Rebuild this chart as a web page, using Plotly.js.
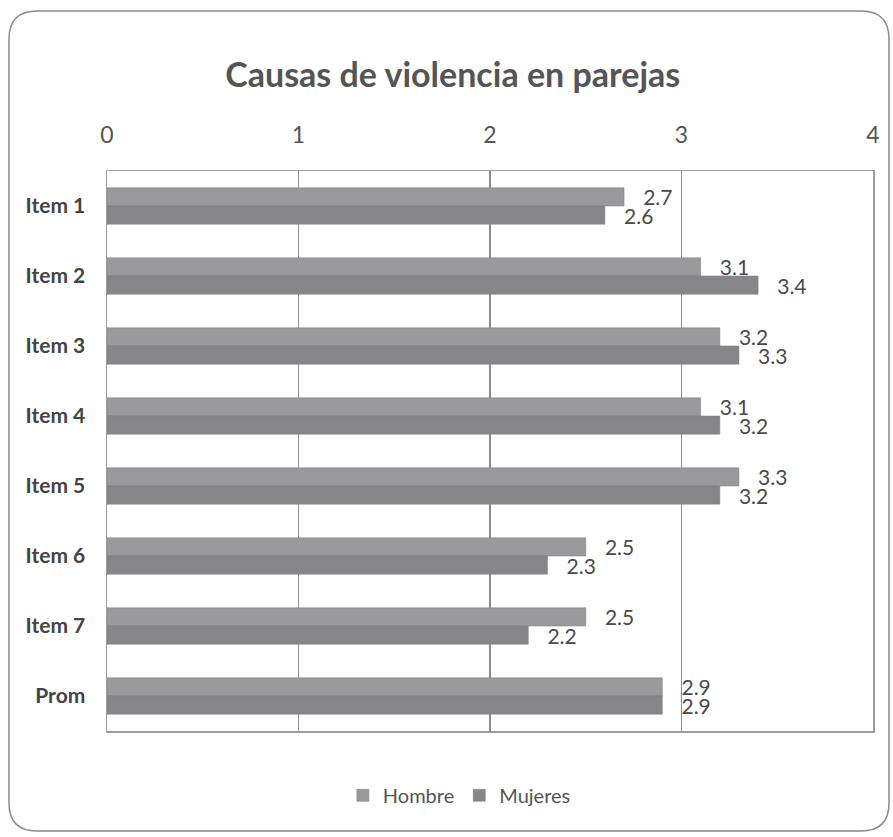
<!DOCTYPE html>
<html>
<head>
<meta charset="utf-8">
<script src="https://cdn.plot.ly/plotly-3.0.1.min.js"></script>
<style>
  html, body { margin: 0; padding: 0; background: #fff; }
  #chart { width: 893px; height: 837px; }
</style>
</head>
<body>
<div id="chart"></div>
<script>
// Item labels, top to bottom
const categories = ['Item 1', 'Item 2', 'Item 3', 'Item 4', 'Item 5', 'Item 6', 'Item 7', 'Prom'];
// Mean scores per group
const hombre  = [2.7, 3.1, 3.2, 3.1, 3.3, 2.5, 2.5, 2.9];
const mujeres = [2.6, 3.4, 3.3, 3.2, 3.2, 2.3, 2.2, 2.9];
const xTicks = [0, 1, 2, 3, 4];

const family = 'Lato, "Open Sans", sans-serif';
const labelFont = { family: family, size: 21, color: '#4a4a4a' };

function barTrace(name, values, color) {
  return {
    type: 'bar',
    orientation: 'h',
    name: name,
    y: categories,
    x: values,
    marker: { color: color, line: { color: '#7a7a7c', width: 0.5 } },
    text: values.map(v => v.toFixed(1)),
    texttemplate: '   %{text}',
    textposition: 'outside',
    constraintext: 'none',
    textfont: labelFont,
    cliponaxis: false,
    hoverinfo: 'skip'
  };
}

const data = [
  barTrace('Hombre', hombre, '#9a9a9c'),
  barTrace('Mujeres', mujeres, '#868688')
];

const layout = {
  width: 893,
  height: 837,
  margin: { l: 107, r: 20, t: 171, b: 106 },
  paper_bgcolor: '#ffffff',
  plot_bgcolor: '#ffffff',
  barmode: 'group',
  bargap: 0.48,
  bargroupgap: 0,
  title: {
    text: '<b>Causas de violencia en parejas</b>',
    font: { family: family, size: 34, color: '#555555' },
    x: 0.507,
    xanchor: 'center',
    y: 0.91,
    yanchor: 'middle'
  },
  xaxis: {
    side: 'top',
    range: [0, 4],
    tickvals: xTicks,
    ticktext: xTicks.map(String),
    showgrid: true,
    gridcolor: '#8c8c8c',
    gridwidth: 1.5,
    showline: true,
    linecolor: '#9c9c9c',
    linewidth: 1.5,
    mirror: true,
    zeroline: false,
    ticks: '',
    ticklabelstandoff: 17,
    tickfont: { family: family, size: 23, color: '#555555' },
    fixedrange: true
  },
  yaxis: {
    type: 'category',
    autorange: 'reversed',
    showgrid: false,
    showline: true,
    linecolor: '#9c9c9c',
    linewidth: 1.5,
    mirror: true,
    ticks: '',
    ticklabelstandoff: 16,
    tickfont: { family: family, size: 21, color: '#444444', weight: 'bold' },
    fixedrange: true
  },
  showlegend: true,
  legend: {
    orientation: 'h',
    x: 0.46,
    xanchor: 'center',
    y: -0.08,
    yanchor: 'top',
    font: { family: family, size: 20, color: '#555555' },
    itemwidth: 30,
    traceorder: 'normal'
  },
  shapes: [
    {
      // rounded frame around the whole chart
      type: 'path',
      xref: 'paper', yref: 'paper',
      path: (function () {
        // convert pixel positions to paper fractions
        const pw = 893 - 107 - 20, ph = 837 - 171 - 106;
        const px = v => (v - 107) / pw;
        const py = v => (837 - 106 - v) / ph;
        const L = 9, R = 889, T = 11, B = 831, r = 28;
        return 'M ' + px(L + r) + ' ' + py(T) +
          ' L ' + px(R - r) + ' ' + py(T) +
          ' Q ' + px(R) + ' ' + py(T) + ' ' + px(R) + ' ' + py(T + r) +
          ' L ' + px(R) + ' ' + py(B - r) +
          ' Q ' + px(R) + ' ' + py(B) + ' ' + px(R - r) + ' ' + py(B) +
          ' L ' + px(L + r) + ' ' + py(B) +
          ' Q ' + px(L) + ' ' + py(B) + ' ' + px(L) + ' ' + py(B - r) +
          ' L ' + px(L) + ' ' + py(T + r) +
          ' Q ' + px(L) + ' ' + py(T) + ' ' + px(L + r) + ' ' + py(T) + ' Z';
      })(),
      line: { color: '#8a8a8a', width: 1.5 },
      layer: 'below'
    }
  ]
};

Plotly.newPlot('chart', data, layout, { displayModeBar: false, staticPlot: true });
</script>
</body>
</html>
